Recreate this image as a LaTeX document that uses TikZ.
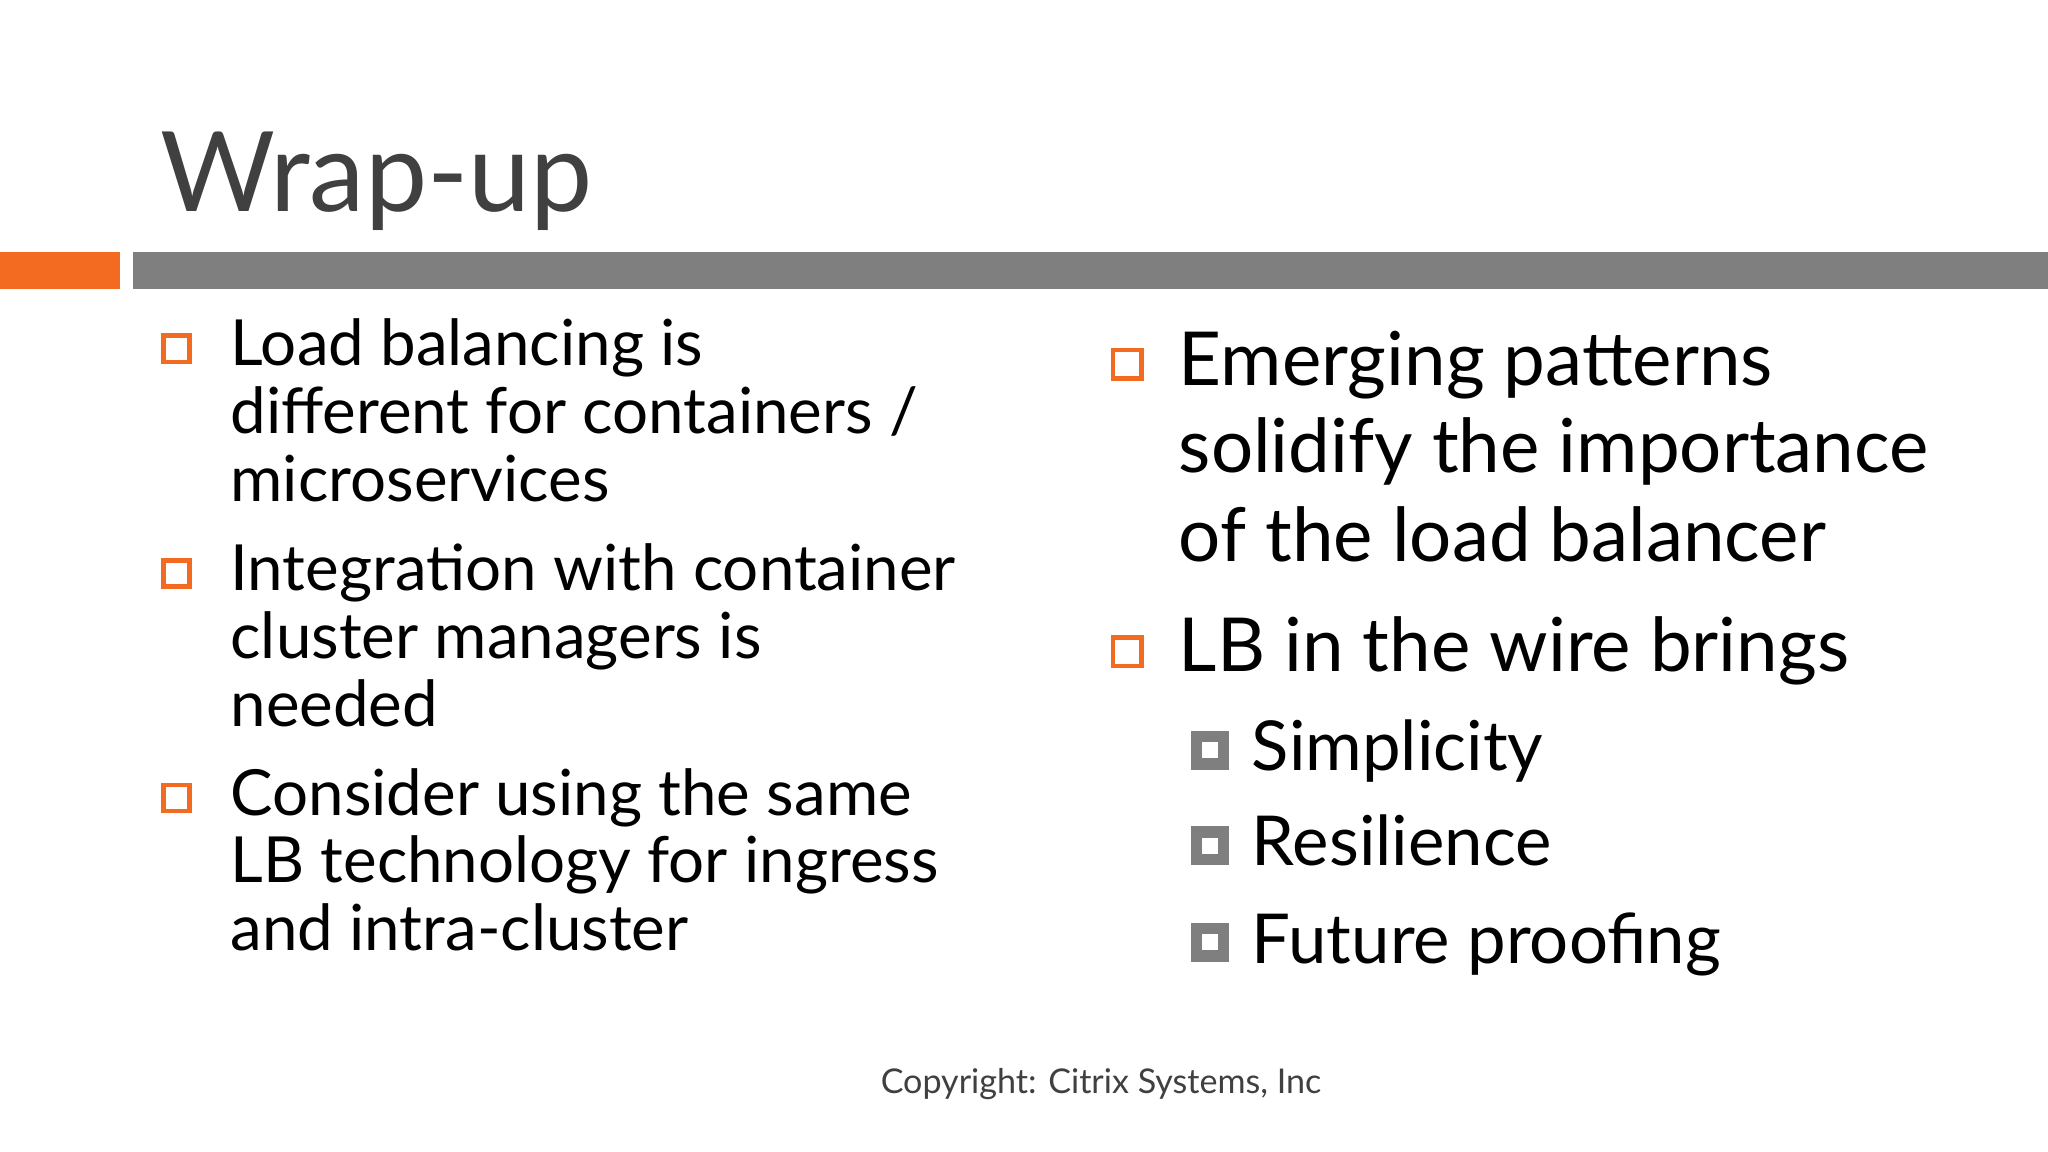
\documentclass[tikz,border=0pt]{standalone}
\usepackage{fontspec}
\setmainfont{Lato}
\definecolor{tgray}{HTML}{404040}
\definecolor{borange}{HTML}{F26B21}
\definecolor{bgray}{HTML}{7F7F7F}
\begin{document}
\begin{tikzpicture}[x=0.013061cm,y=-0.013061cm,
 ln/.style={anchor=base west,inner sep=0,text=black},
 lt/.style={ln,font=\fontsize{18.1}{19}\selectfont},
 rt/.style={ln,font=\fontsize{21.2}{21.5}\selectfont},
 st/.style={ln,font=\fontsize{19.6}{20}\selectfont},
 ob/.style={draw=borange,line width=1.3pt},
 gb/.style={draw=bgray,line width=3.2pt}]
\useasboundingbox (0,0) rectangle (1568,882);
\fill[white] (0,0) rectangle (1568,882);
\node[ln,text=tgray,font=\fontsize{31.6}{32}\selectfont] (title) at (122,162) {Wrap-up};
\fill[borange] (0,193) rectangle (92,221);
\fill[bgray] (102,193) rectangle (1568,221);
% left
\draw[ob] (125,257) rectangle (145,277);
\node[lt] (l1) at (176,280) {Load balancing is};
\node[lt] (l2) at (176,332) {different for containers /};
\node[lt] (l3) at (176,384) {microservices};
\draw[ob] (125,429) rectangle (145,449);
\node[lt] (l4) at (176,452) {Integration with container};
\node[lt] (l5) at (176,504) {cluster managers is};
\node[lt] (l6) at (176,556) {needed};
\draw[ob] (125,601) rectangle (145,621);
\node[lt] (l7) at (176,624) {Consider using the same};
\node[lt] (l8) at (176,676) {LB technology for ingress};
\node[lt] (l9) at (176,728) {and intra-cluster};
% right
\draw[ob] (852,268) rectangle (874,290);
\node[rt] (r1) at (902,295) {Emerging patterns};
\node[rt] (r2) at (902,362) {solidify the importance};
\node[rt] (r3) at (902,430) {of the load balancer};
\draw[ob] (852,488) rectangle (874,510);
\node[rt] (r4) at (902,514) {LB in the wire brings};
\draw[gb] (916,564) rectangle (937,585);
\node[st] (s1) at (958,590) {Simplicity};
\draw[gb] (916,637) rectangle (937,658);
\node[st] (s2) at (958,663) {Resilience};
\draw[gb] (916,711) rectangle (937,732);
\node[st] (s3) at (958,738) {Future proofing};
\node[anchor=base,inner sep=0,text=tgray,font=\fontsize{9.7}{10}\selectfont] (copy) at (843,837) {Copyright: Citrix Systems, Inc};
\end{tikzpicture}
\end{document}
